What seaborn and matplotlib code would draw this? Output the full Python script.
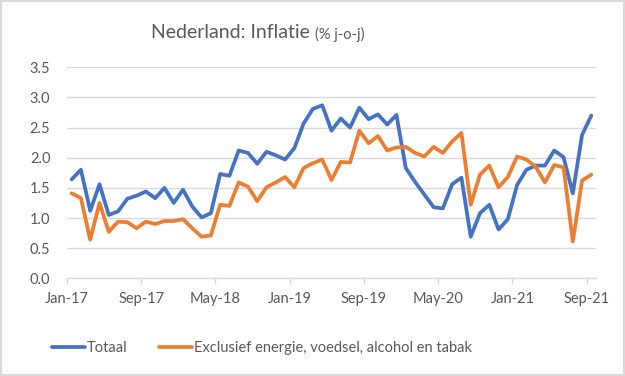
import matplotlib
matplotlib.use('Agg')
import matplotlib.pyplot as plt
from matplotlib.patches import Rectangle
import seaborn as sns
import numpy as np
import pandas as pd

sns.set_style('white')
plt.rcParams['font.family'] = ['Lato', 'DejaVu Sans']

# Monthly data Jan-17 .. Sep-21
totaal = [1.64, 1.80, 1.12, 1.56, 1.05, 1.11, 1.32, 1.37, 1.44, 1.33,
          1.50, 1.25, 1.47, 1.19, 1.01, 1.08, 1.73, 1.70, 2.12, 2.08,
          1.90, 2.10, 2.04, 1.97, 2.16, 2.57, 2.81, 2.87, 2.45, 2.65,
          2.50, 2.83, 2.64, 2.72, 2.55, 2.71, 1.83, 1.60, 1.39, 1.18,
          1.16, 1.56, 1.67, 0.69, 1.08, 1.22, 0.81, 0.98, 1.55, 1.80,
          1.87, 1.87, 2.12, 2.01, 1.41, 2.38, 2.70]
kern = [1.41, 1.33, 0.64, 1.25, 0.77, 0.94, 0.93, 0.83, 0.94, 0.90,
        0.95, 0.95, 0.98, 0.83, 0.69, 0.71, 1.22, 1.20, 1.59, 1.52,
        1.28, 1.51, 1.59, 1.68, 1.51, 1.83, 1.91, 1.97, 1.63, 1.93,
        1.92, 2.45, 2.24, 2.36, 2.12, 2.17, 2.18, 2.08, 2.02, 2.18,
        2.08, 2.27, 2.41, 1.22, 1.72, 1.87, 1.51, 1.68, 2.02, 1.97,
        1.85, 1.59, 1.88, 1.84, 0.61, 1.62, 1.72]
tick_labels = ['Jan-17', 'Sep-17', 'May-18', 'Jan-19', 'Sep-19', 'May-20', 'Jan-21', 'Sep-21']
series_names = ['Totaal', 'Exclusief energie, voedsel, alcohol en tabak']
colors = ['#4472C4', '#ED7D31']

n = len(totaal)
df = pd.DataFrame({
    'maand': list(range(n)) * 2,
    'inflatie': totaal + kern,
    'reeks': [series_names[0]] * n + [series_names[1]] * n,
})

grey_text = '#595959'
grid_col = '#d9d9d9'

fig = plt.figure(figsize=(6.25, 3.76), dpi=100)
ax = fig.add_axes([67 / 625, 1 - 278.3 / 376, 529 / 625, 211 / 376])

sns.lineplot(data=df, x='maand', y='inflatie', hue='reeks', palette=colors,
             linewidth=2.7, ax=ax, legend=False)

ax.set_xlim(-0.5, n - 0.5)
ax.set_ylim(0, 3.5)
ax.set_yticks(np.arange(0, 3.51, 0.5))
ax.set_yticklabels([f'{v:.1f}' for v in np.arange(0, 3.51, 0.5)])
ax.set_xticks(np.arange(-0.5, n - 0.5, 8))
ax.set_xticklabels(tick_labels)
ax.set_xlabel('')
ax.set_ylabel('')
ax.grid(axis='y', color=grid_col, linewidth=1)
ax.set_axisbelow(True)
for side in ['top', 'right', 'left']:
    ax.spines[side].set_visible(False)
ax.spines['bottom'].set_color(grid_col)
ax.spines['bottom'].set_linewidth(1)
ax.tick_params(axis='y', length=0, pad=12, labelsize=10.5, labelcolor=grey_text)
ax.tick_params(axis='x', direction='out', length=4, width=1, color=grid_col,
               pad=6, labelsize=10.5, labelcolor=grey_text, bottom=True)

# title in two sizes
fig.text(315 / 625, 1 - 33 / 376, 'Nederland: Inflatie ', ha='right', va='center',
         fontsize=14, color=grey_text)
fig.text(315 / 625, 1 - 34 / 376, '(% j-o-j)', ha='left', va='center',
         fontsize=10.5, color=grey_text)

handles = [plt.Line2D([], [], color=c, linewidth=2.7) for c in colors]
fig.legend(handles, series_names, loc='center', bbox_to_anchor=(262 / 625, 1 - 348 / 376),
           ncol=2, frameon=False, fontsize=10.5, labelcolor=grey_text,
           handlelength=2.2, handletextpad=0.15, columnspacing=2.2)

fig.add_artist(Rectangle((0.002, 0.003), 0.996, 0.994, transform=fig.transFigure,
                         fill=False, edgecolor=grid_col, linewidth=1.5))

fig.savefig('out.png', dpi=100)
